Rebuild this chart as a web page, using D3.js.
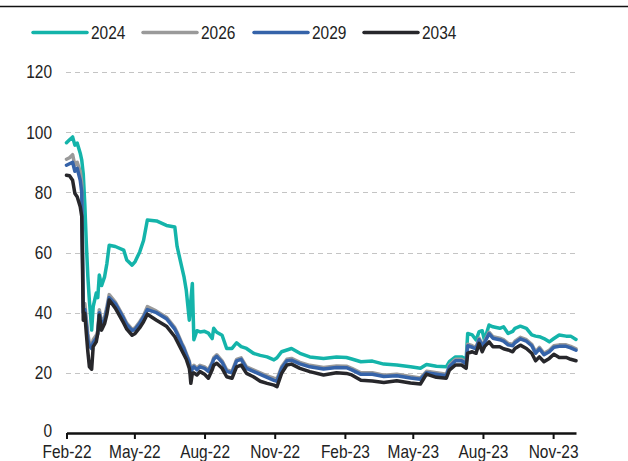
<!DOCTYPE html>
<html>
<head>
<meta charset="utf-8">
<script src="https://cdn.jsdelivr.net/npm/d3@7"></script>
<style>
  body { margin: 0; background: #fff; }
  text { font-family: "Liberation Sans", Arial, sans-serif; fill: #222; }
</style>
</head>
<body>
<svg id="chart"></svg>
<script>
// dates of the readings
var dates = [
  "2022-02-01","2022-02-05","2022-02-09","2022-02-12","2022-02-15","2022-02-19","2022-02-21","2022-02-23",
  "2022-02-25","2022-02-27","2022-03-01","2022-03-03","2022-03-06","2022-03-08","2022-03-12","2022-03-14",
  "2022-03-16","2022-03-19","2022-03-23","2022-03-26","2022-03-29","2022-04-06","2022-04-17","2022-04-21",
  "2022-04-28","2022-05-02","2022-05-08","2022-05-13","2022-05-18","2022-05-30","2022-06-12","2022-06-23",
  "2022-06-26","2022-07-02","2022-07-05","2022-07-08","2022-07-12","2022-07-13","2022-07-14","2022-07-16",
  "2022-07-18","2022-07-22","2022-07-26","2022-08-01","2022-08-06","2022-08-11","2022-08-13","2022-08-17",
  "2022-08-24","2022-08-30","2022-09-06","2022-09-12","2022-09-18","2022-09-25","2022-10-04","2022-10-13",
  "2022-10-22","2022-10-31","2022-11-04","2022-11-10","2022-11-17","2022-11-23","2022-12-04","2022-12-17",
  "2023-01-04","2023-01-21","2023-02-03","2023-02-10","2023-02-22","2023-03-09","2023-03-24","2023-04-10",
  "2023-04-28","2023-05-11","2023-05-19","2023-06-01","2023-06-14","2023-06-18","2023-06-26","2023-07-04",
  "2023-07-10","2023-07-12","2023-07-18","2023-07-23","2023-07-27","2023-07-31","2023-08-03","2023-08-09",
  "2023-08-14","2023-08-23","2023-08-28","2023-09-03","2023-09-09","2023-09-12","2023-09-19","2023-09-27",
  "2023-10-04","2023-10-09","2023-10-14","2023-10-20","2023-10-27","2023-11-02","2023-11-09","2023-11-18",
  "2023-11-24","2023-12-01"
];

var v2024 = [
  96.5,97.5,98.4,95.7,96.4,93,90.7,86,
  76,63,52,44,34.2,42,46.5,45,
  52.5,49,52,56.4,62.4,62,60.8,57.5,
  55.8,57,60.2,64,70.8,70.5,69,68.5,
  62,55.3,52,47.5,37.5,40,44,49.7,
  31,34,33.6,33.8,33.2,31.4,34.8,33.5,
  32.5,28.1,28.1,30,28.7,28.1,26.5,25.8,
  25.3,24.3,25,27,27.6,28.1,26.5,25.3,
  24.8,25.3,25.1,24.6,23.7,23.9,22.9,22.6,
  22,21.5,22.8,22.2,22,23.7,25.3,25.3,
  24.5,33.1,32.6,30.9,33.7,34,30.9,35.9,
  35.3,34.8,35.3,33.1,33.8,34.8,35.5,34.8,
  32.6,32.2,32,31.4,30.3,31.4,32.6,32.2,
  32.2,31.1
];

var v2026 = [
  91,91.5,92.5,89,90,87,83,42,
  43,38,33,30,29,31,32.5,34,
  41,37,38.5,42,46,43.5,38.5,36.5,
  34.5,35,37,39,42,40.5,38.5,35,
  33.5,30,28.5,26.5,24,22,20,22,
  22.5,21.5,22.5,22,21,23.5,25,26,
  24,21,20.5,24.5,25,22,21,20,
  19,18.2,18,22,24.5,24.8,23.5,22.5,
  21.8,22.3,22.2,21.5,20,20,19.2,19.5,
  18.8,18.3,20.5,20,19.5,22.5,24.5,24.5,
  23.5,29.5,29,28.5,31.5,29.5,30.5,33.5,
  32,31.5,31,29.8,29.5,30.5,31.8,31,
  29.5,27,28.5,26.5,27.5,29,29.3,29.3,
  28.8,28
];

var v2029 = [
  89,89.5,90,87,88,84,80,40,
  41,36,31,29,28,30,31.5,33,
  40,36,37.5,41,45,43,38,36,
  34,34.5,36.5,38.5,41,40,38,34.5,
  33,29.5,28,26,23.5,21.5,19.5,21.5,
  22,21,22,21.5,20.5,23,24.5,25.5,
  23.5,20.5,20,24,24.5,21.5,20.5,19.5,
  18.5,17.5,17.2,21.5,24,24.2,23,22,
  21.3,21.8,21.7,21,19.5,19.5,18.8,19,
  18.3,17.9,20,19.5,19,22,24,24,
  23,29,28.5,28,31,29,30,33,
  31.5,31,30.5,29.3,29,30,31.3,30.5,
  29,26.5,28,26,27,28.5,28.8,28.8,
  28.3,27.5
];

var v2034 = [
  85.7,85.5,84,79.6,78.5,75.2,72,37.5,
  39.8,33,27,22,21.2,28.7,30.3,33.1,
  39.2,34.2,36.4,39.5,44.2,41.5,36.5,34.5,
  32.5,33.1,35,37,39.5,37.5,35.5,32,
  30.5,27.5,26,24.5,21.5,19.5,16.5,19.8,
  20,19.3,20.4,19.5,18.2,21,22.5,23.2,
  21.5,18.7,18.2,22,22.6,19.8,18.7,17.2,
  16.5,15.9,15.4,19.8,22.6,22.9,21.5,20.4,
  19.3,20,19.8,19.3,17.5,17.3,16.8,17.4,
  16.6,16.3,19.6,18.5,18.2,20.9,22.6,22.6,
  21.5,26.5,27,26.5,29.8,27,28.7,30.3,
  28.7,28.7,28,27.6,27,28.1,29.2,28.1,
  26.5,24,25.3,23.7,24.8,26.2,25.1,25.1,
  24.5,24
];

var seriesNames = ["2024", "2026", "2029", "2034"];
var seriesValues = [v2024, v2026, v2029, v2034];
var seriesColors = ["#14b4aa", "#9a9a9a", "#3563a9", "#27272b"];

var yTicks = [0, 20, 40, 60, 80, 100, 120];
var xTickDates = ["2022-02-01","2022-05-01","2022-08-01","2022-11-01","2023-02-01","2023-05-01","2023-08-01","2023-11-01"];

var width = 628, height = 461;
var squeeze = "scale(0.86,1)"; // condensed look
var parse = d3.timeParse("%Y-%m-%d");

var svg = d3.select("#chart").attr("width", width).attr("height", height);

var x = d3.scaleTime()
  .domain([parse("2022-02-01"), parse("2023-12-01")])
  .range([66.5, 576]);
var y = d3.scaleLinear().domain([0, 120]).range([433, 72]);

// top rule
svg.append("line")
  .attr("x1", 0).attr("x2", width)
  .attr("y1", 6.5).attr("y2", 6.5)
  .attr("stroke", "#111").attr("stroke-width", 1.5);

// gridlines
svg.append("g")
  .selectAll("line")
  .data(yTicks.filter(function (d) { return d > 0; }))
  .enter()
  .append("line")
  .attr("x1", 66).attr("x2", 577)
  .attr("y1", function (d) { return Math.round(y(d)) + 0.5; })
  .attr("y2", function (d) { return Math.round(y(d)) + 0.5; })
  .attr("stroke", "#c4c4c4")
  .attr("stroke-dasharray", "5,4");

// y labels (the 0 sits a touch higher so it clears Feb-22)
svg.append("g")
  .selectAll("g")
  .data(yTicks)
  .enter()
  .append("g")
  .attr("transform", function (d) { return "translate(52," + (y(d) - (d === 0 ? 2 : 0)) + ")"; })
  .append("text")
  .attr("transform", squeeze)
  .attr("dy", "0.36em")
  .attr("text-anchor", "end")
  .style("font-size", "18px")
  .text(function (d) { return d; });

// lines
var line = d3.line()
  .x(function (d) { return x(d.date); })
  .y(function (d) { return y(d.value); });

seriesNames.forEach(function (name, i) {
  var pts = dates.map(function (d, j) {
    return { date: parse(d), value: seriesValues[i][j] };
  });
  svg.append("path")
    .datum(pts)
    .attr("fill", "none")
    .attr("stroke", seriesColors[i])
    .attr("stroke-width", 3.5)
    .attr("stroke-linejoin", "round")
    .attr("stroke-linecap", "round")
    .attr("d", line);
});

// x axis
var xAxis = svg.append("g")
  .attr("transform", "translate(0,433)")
  .call(d3.axisBottom(x)
    .tickValues(xTickDates.map(parse))
    .tickFormat(d3.timeFormat("%b-%y"))
    .tickSize(6)
    .tickPadding(6)
    .tickSizeOuter(0));
xAxis.select(".domain").attr("stroke", "#111").attr("stroke-width", 2.5);
xAxis.selectAll(".tick line").attr("stroke", "#111").attr("stroke-width", 2);
xAxis.selectAll(".tick text")
  .attr("transform", squeeze)
  .style("font-size", "18px")
  .style("font-family", "\"Liberation Sans\", Arial, sans-serif")
  .attr("fill", "#222");

// legend
var legendX = [33, 143, 254, 364];
seriesNames.forEach(function (name, i) {
  var lg = svg.append("g").attr("transform", "translate(" + legendX[i] + ",32.5)");
  lg.append("line")
    .attr("x1", 0).attr("x2", 54)
    .attr("stroke", seriesColors[i])
    .attr("stroke-width", 3.5)
    .attr("stroke-linecap", "round");
  lg.append("g")
    .attr("transform", "translate(58,0)")
    .append("text")
    .attr("transform", squeeze)
    .attr("dy", "0.36em")
    .style("font-size", "18px")
    .text(name);
});
</script>
</body>
</html>
